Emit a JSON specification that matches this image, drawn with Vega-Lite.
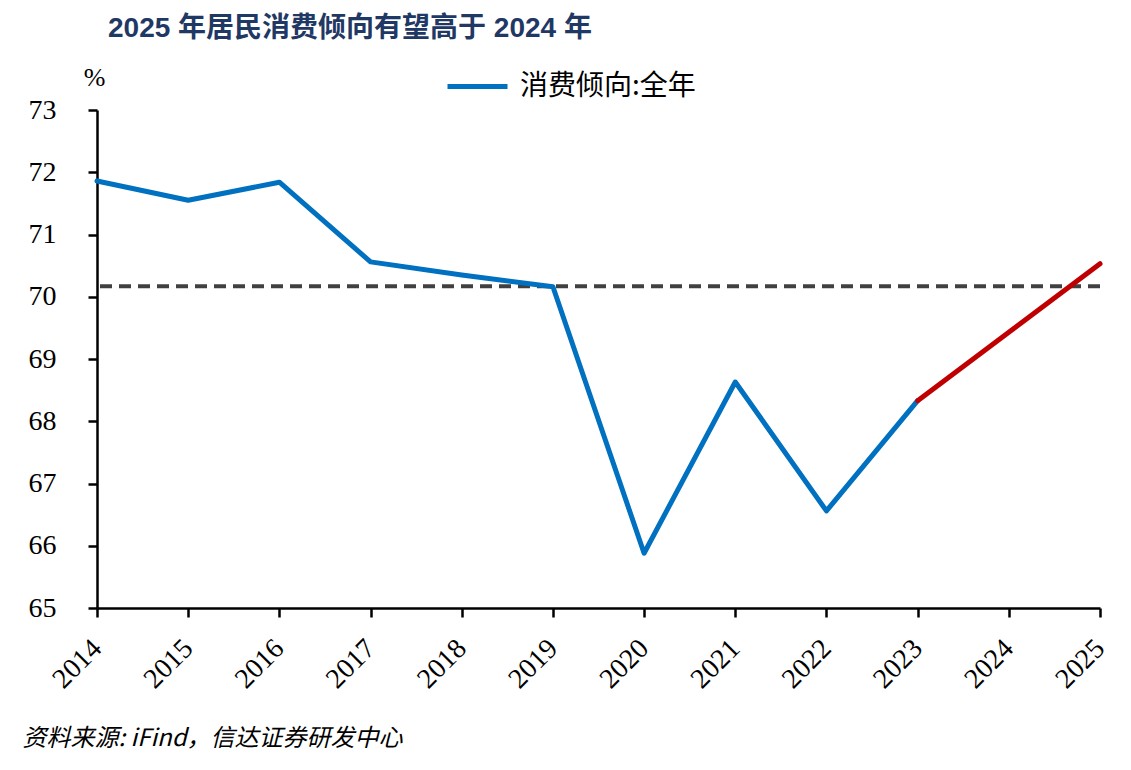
{
  "$schema": "https://vega.github.io/schema/vega-lite/v6.json",
  "autosize": "none",
  "width": 1003,
  "height": 498,
  "padding": {"left": 97, "top": 110, "right": 31, "bottom": 162},
  "background": "white",
  "title": {
    "text": "2025 年居民消费倾向有望高于 2024 年",
    "anchor": "start",
    "frame": "group",
    "dx": 11,
    "dy": -1,
    "font": "Liberation Sans, Noto Sans CJK SC",
    "fontSize": 28,
    "fontWeight": "bold",
    "color": "#1F3864",
    "offset": 10
  },
  "datasets": {
    "hist": [
      {"year": "2014", "value": 71.86},
      {"year": "2015", "value": 71.55},
      {"year": "2016", "value": 71.84},
      {"year": "2017", "value": 70.56},
      {"year": "2018", "value": 70.35},
      {"year": "2019", "value": 70.16},
      {"year": "2020", "value": 65.88},
      {"year": "2021", "value": 68.63},
      {"year": "2022", "value": 66.56},
      {"year": "2023", "value": 68.33}
    ],
    "forecast": [
      {"year": "2023", "value": 68.33},
      {"year": "2024", "value": 69.43},
      {"year": "2025", "value": 70.53}
    ],
    "ref": [{"level": 70.17}]
  },
  "config": {
    "view": {"stroke": null}
  },
  "encoding": {
    "x": {
      "field": "year",
      "type": "ordinal",
      "scale": {"type": "point", "padding": 0, "domain": ["2014","2015","2016","2017","2018","2019","2020","2021","2022","2023","2024","2025"]},
      "axis": {
        "domainColor": "#000000",
        "domainWidth": 2.5,
        "tickColor": "#000000",
        "tickWidth": 2.5,
        "tickSize": 9,
        "grid": false,
        "labelFont": "Liberation Serif",
        "labelColor": "#000000",
        "labelFontSize": 28,
        "labelAngle": -45,
        "labelAlign": "right",
        "labelBaseline": "middle",
        "labelPadding": 27,
        "title": "资料来源: iFind，信达证券研发中心",
        "titleFont": "Noto Sans CJK SC",
        "titleFontStyle": "italic",
        "titleFontWeight": "normal",
        "titleFontSize": 24,
        "titleColor": "#000000",
        "titleAnchor": "start",
        "titleAlign": "left",
        "titleBaseline": "middle",
        "titleX": -75,
        "titleY": 130
      }
    },
    "y": {
      "field": "value",
      "type": "quantitative",
      "scale": {"domain": [65, 73], "zero": false, "nice": false},
      "axis": {
        "values": [65, 66, 67, 68, 69, 70, 71, 72, 73],
        "domainColor": "#000000",
        "domainWidth": 2.5,
        "tickColor": "#000000",
        "tickWidth": 2.5,
        "tickSize": 9,
        "grid": false,
        "labelFont": "Liberation Serif",
        "labelColor": "#000000",
        "labelFontSize": 28,
        "labelPadding": 32,
        "title": "%",
        "titleAngle": 0,
        "titleFont": "Liberation Serif",
        "titleFontWeight": "normal",
        "titleFontSize": 26,
        "titleColor": "#000000",
        "titleAlign": "center",
        "titleBaseline": "middle",
        "titleX": -3,
        "titleY": -33
      }
    }
  },
  "layer": [
    {
      "data": {"name": "ref"},
      "mark": {"type": "rule", "color": "#404040", "strokeWidth": 4, "strokeDash": [12, 7]},
      "encoding": {
        "x": null,
        "y": {"field": "level", "type": "quantitative"}
      }
    },
    {
      "data": {"name": "hist"},
      "mark": {"type": "line", "strokeWidth": 5, "strokeCap": "round", "strokeJoin": "round"},
      "encoding": {
        "color": {
          "datum": "消费倾向:全年",
          "scale": {"range": ["#0070C0"]},
          "legend": {
            "title": null,
            "orient": "none",
            "legendX": 348,
            "legendY": -56,
            "symbolType": "stroke",
            "symbolSize": 3600,
            "symbolStrokeWidth": 5,
            "labelFont": "Noto Sans CJK SC",
            "labelFontSize": 28,
            "labelColor": "#000000",
            "labelOffset": 10,
            "labelLimit": 500
          }
        }
      }
    },
    {
      "data": {"name": "forecast"},
      "mark": {"type": "line", "strokeWidth": 5, "strokeCap": "round", "color": "#C00000"},
      "encoding": {}
    }
  ]
}
